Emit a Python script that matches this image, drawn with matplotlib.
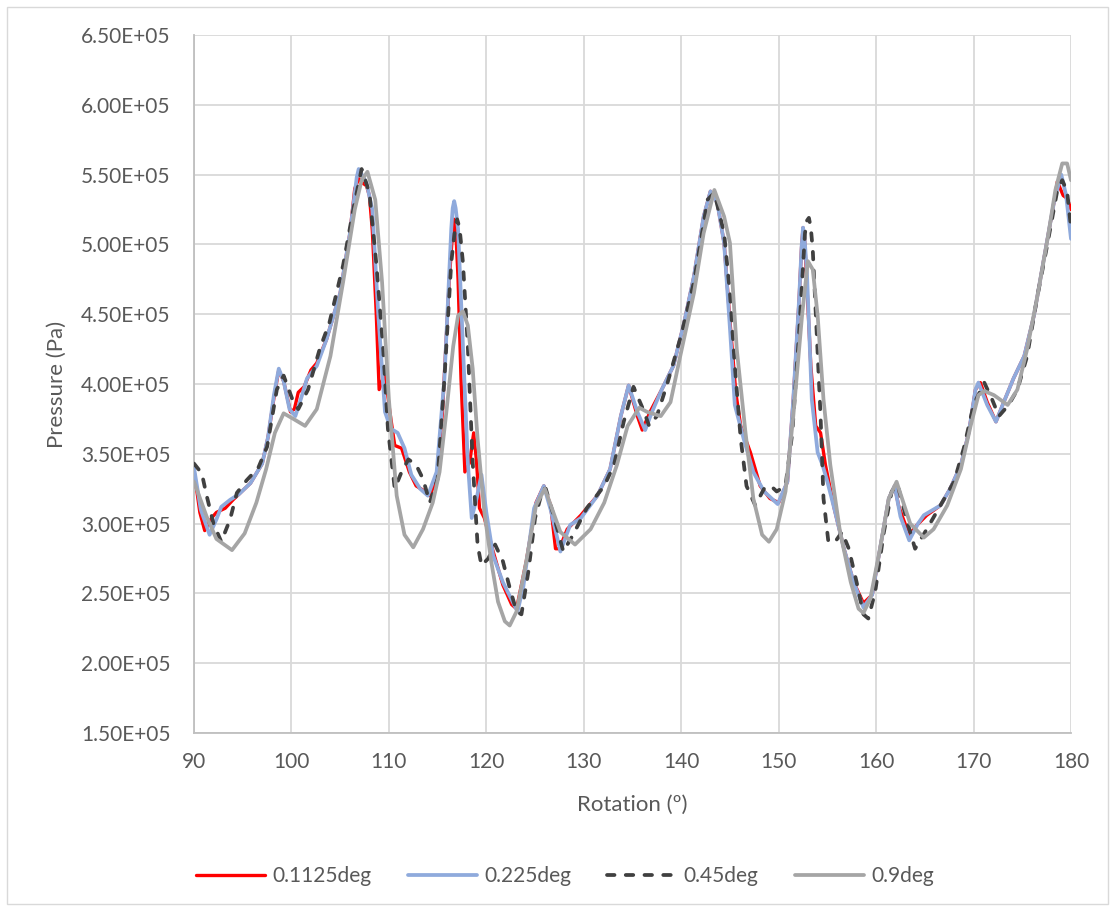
import numpy as np
import matplotlib
matplotlib.use("Agg")
import matplotlib.pyplot as plt
from matplotlib.ticker import FuncFormatter
from matplotlib.patches import Rectangle

plt.rcParams['font.family'] = ['Lato', 'DejaVu Sans']

# ---------------- data (pressure in units of 1e5 Pa) ----------------
x_0p1125 = [90.0, 90.6, 91.1, 91.8, 92.3, 93.2, 94.0, 94.6, 95.8, 97.0, 97.6, 98.2, 98.7, 99.2, 99.9,
            100.3, 100.7, 101.3, 102.0, 102.6, 103.6, 105.0, 106.0, 106.5, 106.9, 107.3, 107.7, 108.0,
            108.3, 108.7, 109.0, 109.6, 110.1, 110.6, 111.3, 112.1, 112.8, 113.5, 114.2, 114.9, 115.5,
            116.2, 116.5, 116.7, 116.9, 117.1, 117.4, 117.8, 118.3, 118.7, 119.0, 119.3, 119.8, 120.7,
            121.7, 122.6, 123.1, 124.1, 125.1, 125.9, 126.6, 127.1, 127.5, 128.3, 129.7, 131.4, 132.7,
            133.8, 134.6, 135.5, 136.0, 136.8, 138.0, 139.2, 140.3, 141.3, 142.3, 143.0, 143.7, 144.4,
            145.0, 145.6, 146.1, 147.1, 148.1, 149.1, 150.0, 150.9, 151.5, 152.1, 152.35, 152.5, 152.65,
            152.8, 153.3, 153.8, 154.3, 154.8, 155.7, 156.7, 157.7, 158.7, 159.6, 160.4, 161.3, 161.9,
            162.3, 162.7, 163.4, 164.2, 165.2, 166.6, 167.6, 168.7, 169.5, 170.2, 170.7, 171.4, 172.3,
            173.1, 174.1, 175.2, 176.2, 177.2, 178.3, 178.6, 179.2, 179.6, 180.0]
p_0p1125 = [3.38, 3.08, 2.95, 3.04, 3.08, 3.11, 3.17, 3.21, 3.29, 3.43, 3.62, 3.90, 4.10, 4.02, 3.80,
            3.82, 3.94, 3.98, 4.10, 4.15, 4.32, 4.65, 5.08, 5.40, 5.47, 5.44, 5.42, 5.35,
            5.10, 4.51, 3.96, 4.08, 3.80, 3.56, 3.54, 3.37, 3.27, 3.24, 3.20, 3.32, 3.80,
            4.75, 5.05, 5.18, 5.05, 4.75, 4.04, 3.37, 3.44, 3.65, 3.44, 3.11, 3.04, 2.80,
            2.56, 2.42, 2.39, 2.73, 3.15, 3.27, 3.13, 2.82, 2.82, 2.96, 3.06, 3.20, 3.39,
            3.77, 3.99, 3.77, 3.67, 3.80, 3.96, 4.13, 4.44, 4.77, 5.20, 5.38, 5.30, 5.01,
            4.45, 3.94, 3.70, 3.51, 3.27, 3.18, 3.15, 3.30, 3.89, 4.61, 4.98, 5.12, 5.05,
            4.85, 4.13, 3.70, 3.65, 3.42, 3.11, 2.82, 2.58, 2.43, 2.49, 2.82, 3.18, 3.27,
            3.13, 3.05, 2.92, 2.99, 3.06, 3.13, 3.25, 3.42, 3.65, 3.96, 4.01, 3.87, 3.73,
            3.87, 4.04, 4.20, 4.49, 4.89, 5.32, 5.45, 5.35, 5.33, 5.25]

x_0p225 = [90.0, 90.7, 91.6, 92.3, 92.8, 93.7, 94.6, 95.8, 97.0, 97.6, 98.2, 98.7, 99.2, 99.8, 100.4,
           101.0, 101.6, 102.6, 103.6, 105.0, 106.0, 106.7, 106.9, 107.7, 108.3, 108.9, 109.6, 110.2,
           110.9, 111.6, 112.3, 113.2, 114.0, 114.9, 115.7, 116.4, 116.55, 116.7, 116.85, 117.1, 117.6,
           118.1, 118.5, 119.0, 119.5, 120.0, 120.7, 121.7, 122.7, 123.2, 123.8, 124.9, 125.9, 126.6,
           127.6, 128.6, 129.7, 131.4, 132.7, 133.8, 134.6, 135.5, 136.3, 137.0, 138.0, 139.2, 140.3,
           141.3, 142.3, 143.0, 143.7, 144.4, 145.0, 145.5, 146.4, 147.4, 148.5, 149.9, 150.9, 151.5,
           152.1, 152.35, 152.5, 152.65, 152.9, 153.4, 154.0, 154.5, 155.0, 155.7, 156.7, 157.7, 158.7,
           159.6, 160.4, 161.3, 161.9, 162.5, 163.4, 164.3, 164.9, 166.6, 167.6, 168.7, 169.5, 170.2,
           170.5, 171.4, 172.3, 173.1, 174.1, 175.2, 176.2, 177.2, 178.3, 179.0, 179.5, 180.0]
p_0p225 = [3.40, 3.10, 2.92, 3.03, 3.12, 3.17, 3.21, 3.29, 3.43, 3.62, 3.92, 4.11, 4.02, 3.82, 3.77,
           3.90, 4.04, 4.13, 4.32, 4.65, 5.08, 5.48, 5.54, 5.44, 5.25, 4.51, 3.80, 3.68,
           3.65, 3.54, 3.35, 3.25, 3.20, 3.37, 4.04, 5.11, 5.26, 5.31, 5.26, 5.11, 4.27,
           3.44, 3.04, 3.18, 3.35, 3.08, 2.77, 2.58, 2.44, 2.37, 2.55, 3.11, 3.27, 3.10,
           2.80, 2.99, 3.04, 3.20, 3.39, 3.77, 3.99, 3.80, 3.67, 3.80, 3.96, 4.13, 4.44,
           4.77, 5.20, 5.38, 5.30, 5.01, 4.40, 3.85, 3.61, 3.37, 3.23, 3.14, 3.30, 3.89,
           4.61, 4.98, 5.12, 5.05, 4.80, 3.89, 3.51, 3.42, 3.30, 3.11, 2.82, 2.58, 2.40,
           2.49, 2.82, 3.18, 3.27, 3.05, 2.88, 3.00, 3.06, 3.13, 3.25, 3.42, 3.65, 3.96,
           4.01, 3.85, 3.73, 3.87, 4.04, 4.20, 4.49, 4.89, 5.32, 5.50, 5.35, 5.04]

x_0p45 = [90.0, 90.8, 91.3, 92.0, 92.8, 93.7, 94.4, 95.4, 96.6, 97.5, 98.5, 99.2, 100.2, 100.7, 101.7,
          102.9, 103.9, 105.3, 106.4, 107.2, 108.0, 108.7, 109.4, 109.9, 110.6, 111.3, 112.0, 112.8,
          113.5, 114.2, 115.0, 115.7, 116.4, 116.8, 117.0, 117.25, 117.6, 118.1, 118.6, 119.1, 119.5,
          120.2, 120.9, 121.7, 122.4, 123.1, 123.6, 124.3, 125.0, 125.8, 126.1, 126.9, 127.9, 128.9,
          130.3, 132.1, 133.1, 134.1, 135.1, 136.2, 136.7, 137.5, 138.6, 140.0, 141.3, 142.7, 143.4,
          144.4, 145.0, 145.5, 146.1, 146.7, 147.6, 148.5, 149.2, 149.8, 150.7, 151.4, 152.1, 152.7,
          152.9, 153.1, 153.3, 153.5, 153.9, 154.3, 154.6, 155.1, 155.8, 156.5, 157.2, 158.0, 158.7,
          159.2, 159.9, 160.8, 161.6, 162.2, 163.2, 164.0, 165.2, 166.6, 168.0, 169.0, 170.0, 171.1,
          171.9, 172.6, 173.6, 174.5, 175.5, 176.5, 177.6, 178.6, 179.1, 179.6, 180.0]
p_0p45 = [3.43, 3.36, 3.20, 3.00, 2.87, 3.03, 3.22, 3.31, 3.40, 3.55, 3.96, 4.06, 3.87, 3.82, 3.96,
          4.25, 4.44, 4.85, 5.27, 5.54, 5.37, 4.87, 4.27, 3.68, 3.25, 3.37, 3.46, 3.42,
          3.32, 3.15, 3.32, 4.04, 4.87, 5.12, 5.18, 5.12, 4.87, 4.27, 3.44, 2.85, 2.70,
          2.75, 2.85, 2.73, 2.54, 2.37, 2.35, 2.65, 3.04, 3.25, 3.25, 3.06, 2.80, 2.92,
          3.11, 3.27, 3.42, 3.73, 3.98, 3.80, 3.70, 3.77, 4.01, 4.35, 4.73, 5.32, 5.37,
          5.08, 4.65, 4.13, 3.61, 3.27, 3.13, 3.25, 3.27, 3.23, 3.27, 3.65, 4.37, 5.08,
          5.17, 5.19, 5.12, 4.96, 4.37, 3.77, 3.18, 2.87, 2.87, 2.94, 2.82, 2.58, 2.35,
          2.32, 2.51, 2.94, 3.23, 3.28, 3.01, 2.82, 2.96, 3.13, 3.30, 3.54, 3.85, 4.01,
          3.89, 3.77, 3.85, 3.96, 4.20, 4.61, 5.01, 5.39, 5.46, 5.38, 5.12]

x_0p9 = [90.0, 91.3, 92.3, 93.9, 95.2, 96.4, 97.4, 98.3, 99.2, 100.2, 101.4, 102.6, 104.0, 105.3,
         106.5, 107.2, 107.8, 108.6, 109.3, 110.0, 110.8, 111.6, 112.5, 113.5, 114.5, 115.2, 115.9,
         116.6, 117.1, 117.6, 118.1, 118.6, 119.1, 119.8, 120.5, 121.2, 121.9, 122.4, 123.1, 124.1,
         125.1, 126.0, 127.6, 129.1, 130.7, 132.1, 133.4, 134.5, 135.7, 136.5, 137.9, 138.9, 139.9,
         141.3, 142.3, 143.4, 144.4, 145.0, 145.7, 146.6, 147.4, 148.3, 149.0, 149.8, 150.7, 151.5,
         152.4, 153.0, 153.5, 154.0, 154.6, 155.3, 156.3, 157.4, 158.2, 158.7, 159.4, 160.4, 161.3,
         162.1, 162.8, 163.5, 164.9, 165.9, 167.3, 168.7, 169.7, 170.5, 171.1, 172.1, 173.5, 174.5,
         175.5, 176.5, 177.6, 178.4, 179.1, 179.6, 180.0]
p_0p9 = [3.30, 3.05, 2.89, 2.81, 2.93, 3.15, 3.39, 3.65, 3.79, 3.75, 3.70, 3.82, 4.20, 4.73,
         5.25, 5.46, 5.52, 5.32, 4.73, 3.89, 3.20, 2.92, 2.83, 2.96, 3.15, 3.37, 3.80,
         4.27, 4.49, 4.52, 4.42, 4.11, 3.61, 3.08, 2.73, 2.44, 2.30, 2.27, 2.37, 2.73,
         3.13, 3.25, 2.94, 2.85, 2.96, 3.15, 3.42, 3.70, 3.83, 3.80, 3.77, 3.87, 4.20,
         4.65, 5.08, 5.39, 5.20, 5.01, 4.25, 3.65, 3.18, 2.92, 2.87, 2.96, 3.23, 3.77,
         4.49, 4.88, 4.82, 4.49, 3.89, 3.42, 2.94, 2.58, 2.39, 2.36, 2.46, 2.82, 3.18,
         3.30, 3.15, 3.00, 2.90, 2.96, 3.13, 3.39, 3.70, 3.92, 3.95, 3.92, 3.85, 3.96,
         4.25, 4.61, 5.04, 5.39, 5.58, 5.58, 5.46]

series_labels = ['0.1125deg', '0.225deg', '0.45deg', '0.9deg']
x_ticks = [90, 100, 110, 120, 130, 140, 150, 160, 170, 180]
y_ticks = [1.5e5, 2.0e5, 2.5e5, 3.0e5, 3.5e5, 4.0e5, 4.5e5, 5.0e5, 5.5e5, 6.0e5, 6.5e5]

# ---------------- figure ----------------
W, H = 1115, 908
fig = plt.figure(figsize=(W / 100, H / 100), dpi=100)
ax = fig.add_axes([194 / W, 1 - 733 / H, (1071 - 194) / W, (733 - 35) / H])

text_color = '#595959'
lw = 2.7

ax.plot(x_0p1125, np.array(p_0p1125) * 1e5, color='#FF0000', lw=lw - 0.3, label=series_labels[0],
        solid_joinstyle='round', solid_capstyle='round', zorder=3)
ax.plot(x_0p225, np.array(p_0p225) * 1e5, color='#8FAADC', lw=lw, label=series_labels[1],
        solid_joinstyle='round', solid_capstyle='round', zorder=4)
ax.plot(x_0p45, np.array(p_0p45) * 1e5, color='#404040', lw=lw, label=series_labels[2],
        linestyle=(0, (2.0, 3.0)), dash_capstyle='round', dash_joinstyle='round', zorder=5)
ax.plot(x_0p9, np.array(p_0p9) * 1e5, color='#A5A5A5', lw=lw, label=series_labels[3],
        solid_joinstyle='round', solid_capstyle='round', zorder=6)

ax.set_xlim(90, 180)
ax.set_ylim(1.5e5, 6.5e5)
ax.set_xticks(x_ticks)
ax.set_yticks(y_ticks)
ax.yaxis.set_major_formatter(FuncFormatter(lambda v, pos: f"{v:.2E}"))
ax.grid(True, color='#D9D9D9', lw=1.3, zorder=0)
ax.set_axisbelow(True)
for s in ['top', 'right']:
    ax.spines[s].set_visible(False)
for s in ['left', 'bottom']:
    ax.spines[s].set_color('#BFBFBF')
    ax.spines[s].set_linewidth(1.3)
ax.tick_params(axis='both', length=0, labelsize=15, colors=text_color)
ax.tick_params(axis='y', pad=17)
ax.tick_params(axis='x', pad=14)

ax.set_xlabel('Rotation (º)', fontsize=16, color=text_color, labelpad=16)
ax.set_ylabel('Pressure (Pa)', fontsize=16, color=text_color, labelpad=10)

leg = fig.legend(loc='center', bbox_to_anchor=(565 / W, 1 - 876 / H), ncol=4, frameon=False,
                 fontsize=15, handlelength=3.3, handletextpad=0.35, columnspacing=1.75,
                 labelcolor=text_color)

fig.patches.append(Rectangle((7 / W, 1 - 904 / H), (1108 - 7) / W, (904 - 7) / H,
                             transform=fig.transFigure, fill=False, edgecolor='#D9D9D9', lw=1))

fig.savefig('out.png', dpi=100, facecolor='white')
